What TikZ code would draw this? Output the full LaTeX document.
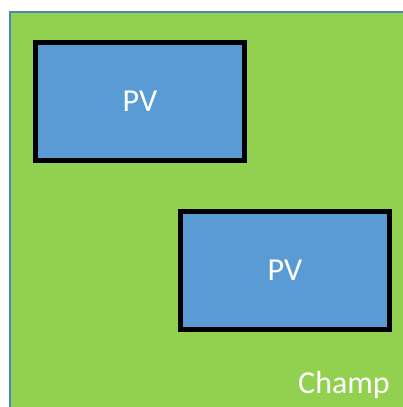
\documentclass[tikz,border=0pt]{standalone}
\usepackage{fontspec}
\setmainfont{Carlito}
\definecolor{champgreen}{HTML}{92D050}
\definecolor{pvblue}{HTML}{5B9BD5}
\definecolor{edgeblue}{HTML}{4F81BD}
\tikzset{
	pvbox/.style={draw=black, fill=pvblue, line width=5pt, minimum width=209pt, minimum height=118pt, inner sep=0pt, text=white, font=\fontsize{32}{38}\selectfont},
}
\begin{document}
\begin{tikzpicture}[x=1pt, y=-1pt]
	\useasboundingbox (0,0) rectangle (402,407);
	
	%field
	\filldraw[fill=champgreen, draw=edgeblue, line width=1.5pt] (10,12) rectangle (406,411);
	\node[anchor=center, align=center, text=white, font=\fontsize{32}{38}\selectfont] (champ) at (344,385) {Champ};
	
	%panels
	\node[pvbox] (pvA) at (140,101.5) {PV};
	\node[pvbox] (pvB) at (285,270.5) {PV};
	
\end{tikzpicture}
\end{document}
